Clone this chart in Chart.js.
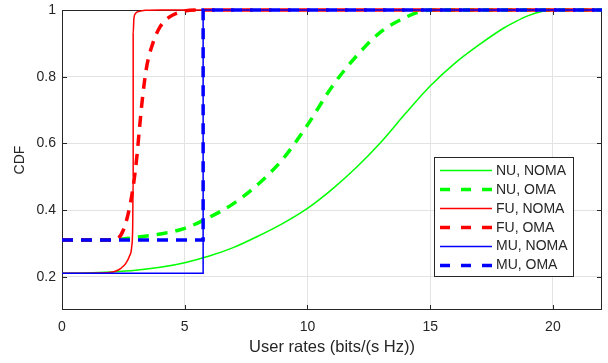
<!DOCTYPE html>
<html>
<head>
<meta charset="utf-8">
<script src="https://cdn.jsdelivr.net/npm/chart.js@4/dist/chart.umd.min.js"></script>
<style>
  html, body { margin: 0; padding: 0; background: #fff; }
  #wrap { width: 608px; height: 363px; position: relative; }
</style>
</head>
<body>
<div id="wrap"><canvas id="cdf"></canvas></div>
<script>
// data
const xTicks = [0, 5, 10, 15, 20];
const yTicks = [0.2, 0.4, 0.6, 0.8, 1];

const nuNomaX = [0, 1, 2, 3, 4, 5, 6, 7, 8, 9, 10, 11, 12, 13, 14, 15, 16, 17, 18, 18.5, 19, 19.5, 20, 22];
const nuNomaY = [0.21, 0.211, 0.214, 0.219, 0.228, 0.242, 0.262, 0.288, 0.322, 0.36, 0.405, 0.462, 0.528, 0.604, 0.69, 0.772, 0.84, 0.896, 0.946, 0.966, 0.983, 0.995, 1, 1];

const nuOmaX = [0, 2, 3, 4, 5, 6, 7, 8, 9, 10, 11, 12, 13, 14, 14.5, 15, 22];
const nuOmaY = [0.31, 0.31, 0.318, 0.328, 0.345, 0.378, 0.42, 0.478, 0.553, 0.655, 0.77, 0.862, 0.935, 0.978, 0.993, 1, 1];

const fuNomaX = [0, 1.5, 2.0, 2.2, 2.4, 2.6, 2.75, 2.84, 2.88, 2.9, 2.9, 2.93, 3.0, 3.15, 3.4, 4, 22];
const fuNomaY = [0.21, 0.211, 0.213, 0.217, 0.225, 0.24, 0.262, 0.29, 0.35, 0.5, 0.93, 0.975, 0.99, 0.996, 0.999, 1, 1];

const fuOmaX = [0, 2.0, 2.3, 2.5, 2.7, 2.9, 3.05, 3.15, 3.3, 3.45, 3.7, 4.0, 4.4, 5.0, 5.5, 22];
const fuOmaY = [0.31, 0.31, 0.316, 0.34, 0.39, 0.47, 0.56, 0.64, 0.75, 0.83, 0.9, 0.95, 0.98, 0.997, 1, 1];

const muNomaX = [0, 5.75, 5.75, 22];
const muNomaY = [0.21, 0.21, 1, 1];

const muOmaX = [0, 5.75, 5.75, 22];
const muOmaY = [0.31, 0.31, 1, 1];

const seriesNames = ["NU, NOMA", "NU, OMA", "FU, NOMA", "FU, OMA", "MU, NOMA", "MU, OMA"];
const seriesColors = ["#00ff00", "#00ff00", "#ff0000", "#ff0000", "#0000ff", "#0000ff"];
const seriesDashed = [false, true, false, true, false, true];
const seriesX = [nuNomaX, nuOmaX, fuNomaX, fuOmaX, muNomaX, muOmaX];
const seriesY = [nuNomaY, nuOmaY, fuNomaY, fuOmaY, muNomaY, muOmaY];

const axisColor = "#262626";
const fontFamily = "'Liberation Sans', Arial, Helvetica, sans-serif";
const dashPattern = [11, 8];

const datasets = seriesNames.map((name, i) => ({
  label: name,
  data: seriesX[i].map((x, k) => ({ x: x, y: seriesY[i][k] })),
  borderColor: seriesColors[i],
  backgroundColor: seriesColors[i],
  borderWidth: seriesDashed[i] ? 3.5 : 1.5,
  borderDash: seriesDashed[i] ? dashPattern : [],
  pointRadius: 0,
  fill: false,
  cubicInterpolationMode: i >= 4 ? "default" : "monotone",
  tension: 0,
  clip: false,
  // MATLAB draws later lines on top; chart.js puts lower order on top
  order: seriesNames.length - i,
}));

// axes box and inward ticks, under the data like MATLAB
const framePlugin = {
  id: "frame",
  beforeDatasetsDraw(chart) {
    const { ctx, chartArea: a, scales } = chart;
    ctx.save();
    ctx.strokeStyle = axisColor;
    ctx.lineWidth = 1;
    ctx.strokeRect(a.left + 0.5, a.top + 0.5, a.right - a.left - 1, a.bottom - a.top - 1);
    ctx.beginPath();
    xTicks.forEach(v => {
      const px = Math.round(scales.x.getPixelForValue(v)) + 0.5;
      ctx.moveTo(px, a.bottom); ctx.lineTo(px, a.bottom - 5);
      ctx.moveTo(px, a.top); ctx.lineTo(px, a.top + 5);
    });
    yTicks.forEach(v => {
      const py = Math.round(scales.y.getPixelForValue(v)) + 0.5;
      ctx.moveTo(a.left, py); ctx.lineTo(a.left + 5, py);
      ctx.moveTo(a.right, py); ctx.lineTo(a.right - 5, py);
    });
    ctx.stroke();
    ctx.restore();
  },
};

// boxed legend inside the axes
const legendPlugin = {
  id: "boxLegend",
  afterDraw(chart) {
    const { ctx } = chart;
    const left = 434, top = 157, w = 140, h = 120;
    ctx.save();
    ctx.fillStyle = "#fff";
    ctx.fillRect(left, top, w, h);
    ctx.strokeStyle = axisColor;
    ctx.lineWidth = 1;
    ctx.strokeRect(left + 0.5, top + 0.5, w - 1, h - 1);
    ctx.font = "14px " + fontFamily;
    ctx.textBaseline = "middle";
    ctx.fillStyle = axisColor;
    seriesNames.forEach((name, i) => {
      const y = top + 13 + i * 18.9;
      ctx.beginPath();
      ctx.strokeStyle = seriesColors[i];
      ctx.lineWidth = seriesDashed[i] ? 3.5 : 1.5;
      ctx.setLineDash(seriesDashed[i] ? [10, 11] : []);
      ctx.moveTo(440, Math.round(y) + 0.5);
      ctx.lineTo(492, Math.round(y) + 0.5);
      ctx.stroke();
      ctx.setLineDash([]);
      ctx.fillText(name, 496, y + 1);
    });
    ctx.restore();
  },
};

new Chart(document.getElementById("cdf"), {
  type: "line",
  data: { datasets: datasets },
  options: {
    responsive: true,
    maintainAspectRatio: false,
    animation: false,
    layout: { padding: { top: 10, right: 6, left: 0, bottom: 0 } },
    plugins: {
      legend: { display: false },
      tooltip: { enabled: false },
    },
    scales: {
      x: {
        type: "linear",
        min: 0,
        max: 22,
        afterBuildTicks: s => { s.ticks = xTicks.map(v => ({ value: v })); },
        afterFit: s => { s.height = 53; s.paddingLeft = 0; s.paddingRight = 0; },
        grid: { color: "#e3e3e3", drawTicks: false },
        border: { display: false },
        ticks: { color: axisColor, font: { family: fontFamily, size: 14 }, padding: 9, maxRotation: 0 },
        title: {
          display: true,
          text: "User rates (bits/(s Hz))",
          color: axisColor,
          font: { family: fontFamily, size: 16.5 },
          padding: { top: 0, bottom: 5.6 },
        },
      },
      y: {
        type: "linear",
        min: 0.1,
        max: 1,
        afterBuildTicks: s => { s.ticks = yTicks.map(v => ({ value: v })); },
        afterFit: s => { s.width = 62; s.paddingTop = 0; s.paddingBottom = 0; },
        grid: { color: "#e3e3e3", drawTicks: false },
        border: { display: false },
        ticks: {
          color: axisColor,
          font: { family: fontFamily, size: 14 },
          padding: 6,
          callback: v => String(v),
        },
        title: {
          display: true,
          text: "CDF",
          color: axisColor,
          font: { family: fontFamily, size: 14 },
          padding: { top: 11.7, bottom: 0 },
        },
      },
    },
  },
  plugins: [framePlugin, legendPlugin],
});
</script>
</body>
</html>
